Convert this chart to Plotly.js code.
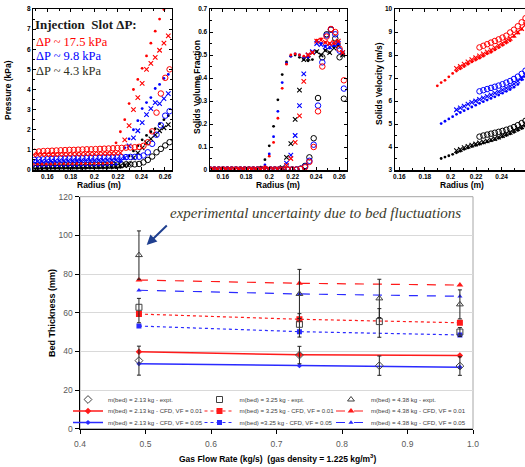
<!DOCTYPE html>
<html><head><meta charset="utf-8">
<script src="https://cdn.plot.ly/plotly-3.0.1.min.js"></script>
<style>html,body{margin:0;padding:0;background:#fff}#chart{width:525px;height:467px}</style>
</head><body><div id="chart"></div>
<script>
// ---------- top panels: radius grids ----------
const radius = [0.1481,0.1518,0.1555,0.1592,0.1629,0.1666,0.1703,0.1740,0.1777,0.1814,0.1851,0.1888,0.1925,0.1962,0.1999,0.2036,0.2073,0.2110,0.2147,0.2184,0.2221,0.2258,0.2295,0.2332,0.2369,0.2406,0.2443,0.2480,0.2517,0.2554,0.2591,0.2628];
const radiusC = [0.1492,0.1529,0.1566,0.1603,0.1640,0.1677,0.1714,0.1751,0.1788,0.1825,0.1862,0.1899,0.1936,0.1973,0.2010,0.2047,0.2084,0.2121,0.2158,0.2195,0.2232,0.2269,0.2306,0.2343,0.2380,0.2417,0.2454,0.2491,0.2528,0.2565,0.2602,0.2639];
const radiusV = [0.1897,0.1927,0.1957,0.1987,0.2017,0.2047,0.2077,0.2107,0.2137,0.2167,0.2197,0.2227,0.2257,0.2287,0.2317,0.2347,0.2377,0.2407,0.2437,0.2467,0.2497,0.2527,0.2557,0.2587];

// Pressure (kPa)
const presRedDot  = [0.28,0.28,0.29,0.29,0.29,0.3,0.3,0.3,0.3,0.3,0.31,0.31,0.31,0.31,0.32,0.32,0.32,0.33,0.35,1.35,1.9,2.5,3.3,4.0,4.5,5.05,5.67,6.3,6.9,7.5,7.97,8.6];
const presRedX    = [0.75,0.76,0.76,0.77,0.77,0.77,0.78,0.78,0.78,0.79,0.79,0.79,0.8,0.8,0.8,0.81,0.81,0.82,0.82,0.83,0.85,1.5,2.2,3.0,3.6,4.3,5.0,5.3,5.6,5.95,6.3,6.67];
const presRedC    = [0.9,0.92,0.94,0.95,0.96,0.97,0.98,0.99,1.0,1.0,1.01,1.02,1.03,1.03,1.04,1.05,1.06,1.07,1.08,1.09,1.1,1.11,1.12,1.13,1.15,1.2,1.38,1.92,2.85,3.8,4.58,5.0];
const presBlueDot = [0.2,0.2,0.2,0.21,0.21,0.21,0.21,0.22,0.22,0.22,0.22,0.23,0.23,0.23,0.23,0.24,0.24,0.25,0.26,0.28,0.4,1.1,1.55,2.0,2.45,3.05,3.35,3.6,4.05,4.25,4.55,4.75];
const presBlueX   = [0.42,0.43,0.43,0.44,0.44,0.44,0.45,0.45,0.45,0.46,0.46,0.46,0.47,0.47,0.47,0.48,0.48,0.49,0.49,0.5,0.52,0.6,1.2,1.6,1.95,2.35,2.75,3.05,3.35,3.3,3.55,3.8];
const presBlueC   = [0.5,0.52,0.53,0.54,0.55,0.56,0.57,0.57,0.58,0.58,0.59,0.59,0.6,0.6,0.61,0.61,0.62,0.62,0.63,0.63,0.64,0.64,0.65,0.65,0.66,0.72,0.88,1.3,1.75,2.22,2.7,2.92];
const presBlkDot  = [0.06,0.06,0.06,0.07,0.07,0.07,0.07,0.07,0.08,0.08,0.08,0.08,0.08,0.09,0.09,0.09,0.09,0.1,0.1,0.11,0.13,0.25,0.7,0.95,1.2,1.5,1.72,1.9,2.05,2.3,2.5,2.7];
const presBlkX    = [0.14,0.14,0.15,0.15,0.15,0.15,0.16,0.16,0.16,0.16,0.16,0.17,0.17,0.17,0.17,0.17,0.18,0.18,0.18,0.19,0.2,0.22,0.3,0.6,0.85,1.1,1.35,1.55,1.75,1.95,2.1,2.25];
const presBlkC    = [0.22,0.22,0.23,0.23,0.23,0.24,0.24,0.24,0.24,0.25,0.25,0.25,0.25,0.26,0.26,0.26,0.26,0.27,0.27,0.27,0.27,0.28,0.28,0.28,0.3,0.38,0.5,0.67,0.88,1.05,1.22,1.38];

// Solids volume fraction
const svfBlkDot  = [0.002,0.002,0.002,0.002,0.002,0.002,0.002,0.002,0.002,0.002,0.003,0.004,0.012,0.045,0.105,0.19,0.305,0.415,0.47,0.495,0.5,0.49,0.48,0.475,0.48,0.515,0.5,0.52,0.51,0.535,0.545,0.51];
const svfBlueDot = [0.002,0.002,0.002,0.002,0.002,0.002,0.002,0.002,0.002,0.002,0.002,0.003,0.006,0.022,0.07,0.145,0.255,0.38,0.465,0.495,0.505,0.5,0.49,0.49,0.51,0.56,0.55,0.54,0.53,0.54,0.55,0.51];
const svfRedDot  = [0.002,0.002,0.002,0.002,0.002,0.002,0.002,0.002,0.002,0.002,0.002,0.003,0.004,0.015,0.06,0.12,0.225,0.355,0.46,0.5,0.505,0.5,0.495,0.5,0.51,0.565,0.57,0.555,0.55,0.55,0.56,0.51];
const svfBlkX    = [0.002,0.002,0.002,0.002,0.002,0.002,0.002,0.002,0.002,0.002,0.002,0.002,0.002,0.002,0.002,0.002,0.002,0.01,0.055,0.115,0.22,0.347,0.48,0.485,0.51,0.515,0.5,0.52,0.51,0.53,0.54,0.5];
const svfBlueX   = [0.002,0.002,0.002,0.002,0.002,0.002,0.002,0.002,0.002,0.002,0.002,0.002,0.002,0.002,0.002,0.002,0.002,0.002,0.03,0.065,0.15,0.28,0.418,0.5,0.515,0.55,0.545,0.535,0.535,0.545,0.55,0.51];
const svfRedX    = [0.002,0.002,0.002,0.002,0.002,0.002,0.002,0.002,0.002,0.002,0.002,0.002,0.002,0.002,0.002,0.002,0.002,0.002,0.02,0.05,0.12,0.235,0.385,0.5,0.51,0.56,0.565,0.555,0.55,0.555,0.56,0.51];
const svfBlkC    = [0.002,0.002,0.002,0.002,0.002,0.002,0.002,0.002,0.002,0.002,0.002,0.002,0.002,0.002,0.002,0.002,0.002,0.002,0.002,0.002,0.002,0.006,0.018,0.055,0.138,0.313,0.49,0.59,0.61,0.572,0.49,0.31];
const svfBlueC   = [0.002,0.002,0.002,0.002,0.002,0.002,0.002,0.002,0.002,0.002,0.002,0.002,0.002,0.002,0.002,0.002,0.002,0.002,0.002,0.002,0.002,0.005,0.015,0.04,0.11,0.28,0.468,0.585,0.612,0.59,0.519,0.354];
const svfRedC    = [0.002,0.002,0.002,0.002,0.002,0.002,0.002,0.002,0.002,0.002,0.002,0.002,0.002,0.002,0.002,0.002,0.002,0.002,0.002,0.002,0.002,0.004,0.012,0.035,0.1,0.255,0.45,0.58,0.613,0.6,0.527,0.39];

// Solids velocity (m/s)
const velRedDot  = [6.66,6.8,6.9,7.05,7.2,7.3,7.4,7.5,7.6,7.7,7.78,7.86,7.95,8.05,8.12,8.22,8.32,8.42,8.52,8.62,8.8,8.95,9.12,9.3];
const velRedX    = [null,null,null,null,null,7.42,7.5,7.6,7.7,7.8,7.88,7.96,8.05,8.14,8.22,8.32,8.42,8.52,8.62,8.72,8.85,9.0,9.15,9.32];
const velRedC    = [null,null,null,null,null,null,null,null,null,null,null,8.33,8.4,8.47,8.54,8.61,8.68,8.76,8.84,8.98,9.1,9.25,9.42,9.6];
const velBlueDot = [null,5.02,5.12,5.22,5.32,5.42,5.5,5.58,5.66,5.74,5.82,5.9,5.97,6.04,6.11,6.18,6.26,6.34,6.42,6.5,6.6,6.72,6.92,7.05];
const velBlueX   = [null,null,null,null,null,5.62,5.7,5.78,5.86,5.94,6.0,6.07,6.14,6.2,6.27,6.34,6.41,6.48,6.56,6.64,6.74,6.86,7.0,7.12];
const velBlueC   = [null,null,null,null,null,null,null,null,null,null,null,6.42,6.47,6.52,6.57,6.62,6.67,6.73,6.8,6.87,6.96,7.06,7.18,7.32];
const velBlkDot  = [null,3.5,3.56,3.62,3.68,3.75,3.82,3.9,3.96,4.02,4.07,4.12,4.17,4.22,4.27,4.32,4.38,4.44,4.5,4.57,4.64,4.72,4.8,4.9];
const velBlkX    = [null,null,null,null,null,3.84,3.9,3.97,4.03,4.08,4.13,4.18,4.22,4.27,4.32,4.37,4.43,4.5,4.57,4.64,4.72,4.8,4.88,4.98];
const velBlkC    = [null,null,null,null,null,null,null,null,null,null,null,4.45,4.5,4.54,4.58,4.62,4.66,4.7,4.75,4.8,4.87,4.95,5.04,5.14];

// ---------- main chart ----------
const flowExpt = [0.49, 0.735, 0.857, 0.98];
const flowCFD  = [0.49, 0.735, 0.98];
const expt213 = [35.2, 38.1, 32.6, 32.4];
const err213  = [7.5, 4.5, 5.0, 4.8];
const expt325 = [62.8, 54.0, 55.4, 50.0];
const err325p = [4.6, 5.5, 6.7, 2.3];
const err325m = [8.0, 6.6, 8.1, 2.3];
const expt438 = [89.8, 69.7, 67.4, 64.3];
const err438  = [12.5, 12.7, 9.9, 7.5];
const cfd213vf01 = [39.8, 38.2, 37.8];
const cfd325vf01 = [59.3, 56.6, 54.8];
const cfd438vf01 = [76.9, 75.2, 74.3];
const cfd213vf05 = [33.6, 32.6, 31.8];
const cfd325vf05 = [53.1, 50.2, 48.5];
const cfd438vf05 = [71.6, 69.7, 68.5];

const legendNames = [
  ['m(bed) = 2.13 kg - expt.', 'm(bed) = 3.25 kg - expt.', 'm(bed) = 4.38 kg - expt.'],
  ['m(bed) = 2.13 kg - CFD, VF = 0.01', 'm(bed) = 3.25 kg - CFD, VF = 0.01', 'm(bed) = 4.38 kg - CFD, VF = 0.01'],
  ['m(bed) = 2.13 kg - CFD, VF = 0.05', 'm(bed) =3.25 kg - CFD, VF = 0.05', 'm(bed) = 4.38 kg - CFD, VF = 0.05']
];

const RED = '#ff0000', BLUE = '#0000ff', BLK = '#000000';
const RED2 = '#ff1a1a', BLUE2 = '#2a2aff';

function pts(xa, ya, x, y, color, kind) {
  let m;
  if (kind === 'dot') m = {symbol: 'circle', size: 2.8, color: color};
  else if (kind === 'x') m = {symbol: 'x-thin-open', size: 4.5, color: color, line: {width: 1.1, color: color}};
  else m = {symbol: 'circle-open', size: 5.5, color: color, line: {width: 1}};
  return {type: 'scatter', mode: 'markers', x: x, y: y, xaxis: xa, yaxis: ya, marker: m,
          showlegend: false, hoverinfo: 'skip'};
}

const data = [];
data.push(pts('x2','y2', radius, presBlkDot, BLK, 'dot'));
data.push(pts('x2','y2', radius, presBlkX, BLK, 'x'));
data.push(pts('x2','y2', radiusC, presBlkC, BLK, 'circ'));
data.push(pts('x2','y2', radius, presBlueDot, BLUE, 'dot'));
data.push(pts('x2','y2', radius, presBlueX, BLUE, 'x'));
data.push(pts('x2','y2', radiusC, presBlueC, BLUE, 'circ'));
data.push(pts('x2','y2', radius, presRedDot, RED, 'dot'));
data.push(pts('x2','y2', radius, presRedX, RED, 'x'));
data.push(pts('x2','y2', radiusC, presRedC, RED, 'circ'));
data.push(pts('x3','y3', radius, svfBlkDot, BLK, 'dot'));
data.push(pts('x3','y3', radius, svfBlkX, BLK, 'x'));
data.push(pts('x3','y3', radiusC, svfBlkC, BLK, 'circ'));
data.push(pts('x3','y3', radius, svfBlueDot, BLUE, 'dot'));
data.push(pts('x3','y3', radius, svfBlueX, BLUE, 'x'));
data.push(pts('x3','y3', radiusC, svfBlueC, BLUE, 'circ'));
data.push(pts('x3','y3', radius, svfRedDot, RED, 'dot'));
data.push(pts('x3','y3', radius, svfRedX, RED, 'x'));
data.push(pts('x3','y3', radiusC, svfRedC, RED, 'circ'));
data.push(pts('x4','y4', radiusV, velBlkDot, BLK, 'dot'));
data.push(pts('x4','y4', radiusV, velBlkX, BLK, 'x'));
data.push(pts('x4','y4', radiusV, velBlkC, BLK, 'circ'));
data.push(pts('x4','y4', radiusV, velBlueDot, BLUE, 'dot'));
data.push(pts('x4','y4', radiusV, velBlueX, BLUE, 'x'));
data.push(pts('x4','y4', radiusV, velBlueC, BLUE, 'circ'));
data.push(pts('x4','y4', radiusV, velRedDot, RED, 'dot'));
data.push(pts('x4','y4', radiusV, velRedX, RED, 'x'));
data.push(pts('x4','y4', radiusV, velRedC, RED, 'circ'));

function cfd(y, color, dash, sym, size, name, lg, w, lw) {
  const t = {type: 'scatter', mode: 'lines+markers', x: flowCFD, y: y, xaxis: 'x', yaxis: 'y',
          name: name, legend: lg,
          line: {color: color, width: w, dash: dash},
          marker: {symbol: sym, size: size, color: color}, hoverinfo: 'skip'};
  if (lw) t.legendwidth = lw;
  return t;
}
data.push(cfd(cfd213vf01, RED2, 'solid', 'diamond', 5, legendNames[1][0], 'legend2', 1.5));
data.push(cfd(cfd325vf01, RED2, 'dot', 'square', 6, legendNames[1][1], 'legend2', 1.2));
data.push(cfd(cfd438vf01, RED2, 'dash', 'triangle-up', 6, legendNames[1][2], 'legend2', 1.2, 110));
data.push(cfd(cfd213vf05, BLUE2, 'solid', 'diamond', 4, legendNames[2][0], 'legend3', 1.5));
data.push(cfd(cfd325vf05, BLUE2, 'dot', 'square', 5, legendNames[2][1], 'legend3', 1.2));
data.push(cfd(cfd438vf05, BLUE2, 'dash', 'triangle-up', 4.5, legendNames[2][2], 'legend3', 1.2, 110));

function expt(y, ep, em, sym, size, name, lw) {
  const t = {type: 'scatter', mode: 'markers', x: flowExpt, y: y, xaxis: 'x', yaxis: 'y',
          name: name, legend: 'legend',
          marker: {symbol: sym, size: size, color: '#404040', line: {width: 1}},
          error_y: {type: 'data', symmetric: false, array: ep, arrayminus: em, color: '#222222', thickness: 1, width: 2},
          hoverinfo: 'skip'};
  if (lw) t.legendwidth = lw;
  return t;
}
data.push(expt(expt213, err213, err213, 'diamond-open', 6, legendNames[0][0]));
data.push(expt(expt325, err325p, err325m, 'square-open', 6, legendNames[0][1]));
data.push(expt(expt438, err438, err438, 'triangle-up-open', 6, legendNames[0][2], 110));

const W = 525, H = 467;
const px = v => v / W;
const py = v => 1 - v / H;

const smallFont = {family: 'Liberation Sans, Arial, sans-serif', size: 6.5, color: '#000', weight: 'bold'};
function smallX(domain, range, anchor, mirror) {
  return {domain: domain, range: range, anchor: anchor, tick0: 0.16, dtick: 0.02,
          ticks: 'inside', ticklen: 3, tickwidth: 1, tickcolor: '#000',
          showline: true, linecolor: '#000', linewidth: 1.5, mirror: mirror,
          showgrid: false, zeroline: false, tickfont: smallFont, fixedrange: true,
          minor: {ticks: 'inside', ticklen: 2, dtick: 0.01, tick0: 0.16, tickcolor: '#000', showgrid: false}};
}
function smallY(domain, range, anchor, dtick, mirror) {
  return {domain: domain, range: range, anchor: anchor, dtick: dtick,
          ticks: 'inside', ticklen: 3, tickwidth: 1, tickcolor: '#000',
          showline: true, linecolor: '#000', linewidth: 1.5, mirror: mirror,
          showgrid: false, zeroline: false, tickfont: smallFont, fixedrange: true,
          minor: {ticks: 'inside', ticklen: 2, dtick: dtick / 2, tickcolor: '#000', showgrid: false}};
}

const topDom = [py(170), py(9)];
const mainTickFont = {family: 'Liberation Sans, Arial, sans-serif', size: 8.5, color: '#595959'};
const legFont = {family: 'Liberation Sans, Arial, sans-serif', size: 6.1, color: '#404040'};
function rowLegend(yCenter) {
  return {bgcolor: 'rgba(0,0,0,0)', borderwidth: 0, font: legFont, orientation: 'h',
          xanchor: 'left', yanchor: 'top', x: px(68), y: py(yCenter - 14),
          entrywidth: 86.5, entrywidthmode: 'pixels', traceorder: 'normal', itemwidth: 30};
}

const titleFont = {family: 'Liberation Sans, Arial, sans-serif', size: 8.5, color: '#000'};
function lab(text, x, y, angle, font) {
  return {text: text, x: px(x), y: py(y), xref: 'paper', yref: 'paper', showarrow: false,
          xanchor: 'center', yanchor: 'middle', textangle: angle || 0, font: font || titleFont};
}
const serif = 'Liberation Serif, Times New Roman, serif';

const layout = {
  width: W, height: H, margin: {l: 0, r: 0, t: 0, b: 0},
  paper_bgcolor: '#ffffff', plot_bgcolor: 'rgba(0,0,0,0)',
  xaxis: {domain: [px(80), px(473)], range: [0.4, 1.0], tick0: 0.4, dtick: 0.1, tickformat: '.1f',
          anchor: 'y', ticks: 'outside', ticklen: 4, tickcolor: '#000', showline: true, linecolor: '#000',
          linewidth: 1.5, showgrid: false, zeroline: false, tickfont: mainTickFont, fixedrange: true,
          ticklabelstandoff: 3},
  yaxis: {domain: [py(428.7), py(196.7)], range: [0, 120], dtick: 20, anchor: 'x',
          ticks: 'outside', ticklen: 4, tickcolor: '#000', showline: true, linecolor: '#000', linewidth: 1.5,
          showgrid: true, gridcolor: '#d9d9d9', gridwidth: 1, zeroline: false, tickfont: mainTickFont, fixedrange: true},
  xaxis2: smallX([px(33.3), px(171.7)], [0.1481, 0.2657], 'y2', 'ticks'),
  yaxis2: smallY(topDom, [0, 8], 'x2', 1, 'ticks'),
  xaxis3: smallX([px(210), px(346.7)], [0.1491, 0.2663], 'y3', 'ticks'),
  yaxis3: smallY(topDom, [0, 0.7], 'x3', 0.1, 'ticks'),
  xaxis4: smallX([px(395), 1], [0.1566, 0.2583], 'y4', 'ticks'),
  yaxis4: smallY(topDom, [3, 10], 'x4', 1, false),
  legend:  rowLegend(399),
  legend2: rowLegend(410.5),
  legend3: rowLegend(422),
  shapes: [
    {type: 'rect', xref: 'x domain', yref: 'y domain', x0: 0, x1: 1, y0: 0, y1: 1,
     line: {color: '#a6a6a6', width: 1}, layer: 'below'}
  ],
  annotations: [
    lab('<b>Pressure (kPa)</b>', 8, 90, -90),
    lab('<b>Radius (m)</b>', 99, 184.5),
    lab('<b>Solids Volume Fraction</b>', 197, 87, -90),
    lab('<b>Radius (m)</b>', 278, 184.5),
    lab('<b>Solids Velocity (m/s)</b>', 379, 84, -90),
    lab('<b>Radius (m)</b>', 462, 184.5),
    lab('<b>Bed Thickness (mm)</b>', 52, 313, -90, {family: 'Liberation Sans, Arial, sans-serif', size: 9, color: '#000'}),
    lab('<b>Gas Flow Rate (kg/s)  (gas density = 1.225 kg/m<sup>3</sup>)</b>', 277, 458, 0,
        {family: 'Liberation Sans, Arial, sans-serif', size: 8.5, color: '#000'}),
    {text: '<b>Injection  Slot ΔP:</b>', x: px(33), y: py(25), xref: 'paper', yref: 'paper', showarrow: false,
     xanchor: 'left', yanchor: 'middle', font: {family: serif, size: 13, color: '#1a1a1a'}},
    {text: 'ΔP ~ 17.5 kPa', x: px(34), y: py(41.5), xref: 'paper', yref: 'paper', showarrow: false,
     xanchor: 'left', yanchor: 'middle', font: {family: serif, size: 12.5, color: '#ff0000'}},
    {text: 'ΔP ~ 9.8 kPa', x: px(34), y: py(56), xref: 'paper', yref: 'paper', showarrow: false,
     xanchor: 'left', yanchor: 'middle', font: {family: serif, size: 12.5, color: '#0000ff'}},
    {text: 'ΔP ~ 4.3 kPa', x: px(34), y: py(71), xref: 'paper', yref: 'paper', showarrow: false,
     xanchor: 'left', yanchor: 'middle', font: {family: serif, size: 12.5, color: '#2e2e22'}},
    {text: 'experimental uncertainty due to bed fluctuations', x: px(168), y: py(213), xref: 'paper', yref: 'paper',
     showarrow: false, xanchor: 'left', yanchor: 'middle',
     font: {family: serif, size: 15, color: '#3d3d2e', style: 'italic'}},
    {text: '', x: px(146.7), y: py(245), xref: 'paper', yref: 'paper', showarrow: true,
     ax: 21.6, ay: -21, axref: 'pixel', ayref: 'pixel', arrowhead: 2, arrowsize: 1, arrowwidth: 2, arrowcolor: '#1f3f8f'}
  ]
};

Plotly.newPlot('chart', data, layout, {staticPlot: true, displayModeBar: false});
</script></body></html>
